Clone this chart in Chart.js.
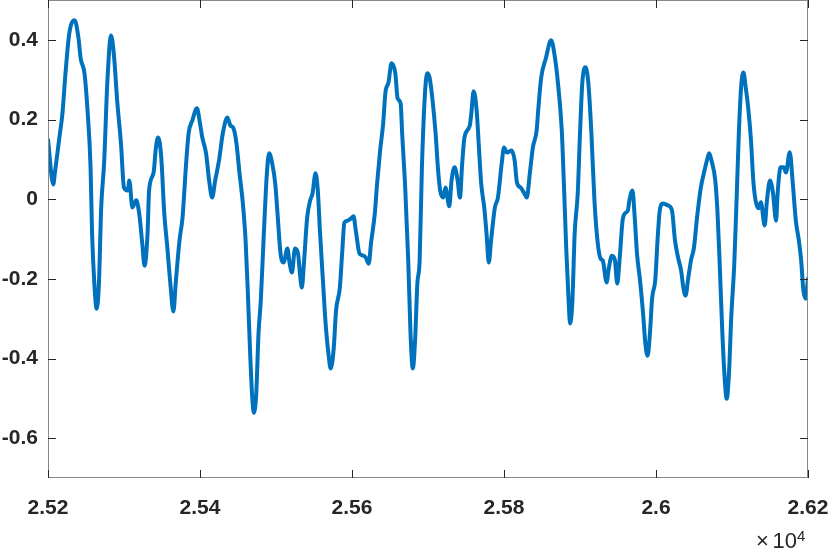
<!DOCTYPE html>
<html>
<head>
<meta charset="utf-8">
<script src="https://cdn.jsdelivr.net/npm/chart.js@4.4.1/dist/chart.umd.min.js"></script>
<style>
  html, body { margin: 0; padding: 0; background: #fff; }
  #wrap { width: 830px; height: 554px; }
</style>
</head>
<body>
<div id="wrap"><canvas id="mycanvas" width="830" height="554"></canvas></div>
<script>
// sample positions (x) and signal values (y)
var xs = [25200,25207,25209,25215,25219,25223,25228,25235,25240,25243,25248,25252,25256,25258,25261,25264,25267,25270,25274,25278,
  25283,25287,25291,25296,25300,25305,25307,25311,25316,25320,25324,25327,25331,25333,25339,25342,25345,25349,25353,25357,
  25361,25365,25368,25373,25377,25382,25385,25390,25396,25400,25403,25408,25412,25416,25420,25425,25430,25436,25440,25444,
  25448,25452,25456,25460,25463,25466,25469,25471,25474,25477,25480,25484,25488,25491,25495,25499,25502,25506,25510,25515,
  25518,25521,25525,25529,25532,25534,25537,25541,25545,25548,25552,25555,25558,25562,25565,25569,25572,25576,25579,25584,
  25587,25590,25594,25599,25602,25605,25610,25614,25618,25622,25625,25630,25633,25637,25641,25644,25648,25652,25657,25660,
  25664,25666,25670,25674,25677,25680,25683,25686,25689,25692,25696,25699,25702,25706,25710,25713,25716,25720,25723,25728,
  25731,25735,25739,25742,25745,25748,25755,25757,25760,25764,25767,25770,25774,25777,25780,25783,25788,25792,25797,25800,
  25804,25810,25814,25817,25822,25826,25830,25834,25838,25843,25845,25849,25855,25862,25867,25871,25876,25879,25882,25885,
  25887,25890,25893,25897,25900,25903,25907,25911,25915,25919,25923,25927,25930,25935,25938,25942,25946,25949,25952,25956,
  25959,25963,25965,25969,25972,25975,25979,25983,25986,25989,25992,25995,25999,26002,26005,26009,26016,26021,26025,26029,
  26033,26036,26039,26042,26046,26050,26054,26059,26063,26067,26070,26073,26078,26081,26084,26087,26090,26093,26096,26099,
  26103,26106,26109,26112,26115,26118,26121,26125,26128,26131,26135,26138,26143,26146,26150,26154,26158,26160,26164,26168,
  26171,26176,26180,26184,26188,26191,26194,26197,26200];
var ys = [0.149,0.037,0.065,0.155,0.215,0.316,0.416,0.449,0.406,0.353,0.316,0.223,0.080,-0.086,-0.212,-0.275,-0.212,-0.021,0.097,0.291,
  0.411,0.356,0.248,0.140,0.029,0.022,0.047,-0.021,-0.003,-0.036,-0.111,-0.167,-0.086,0.022,0.067,0.130,0.155,0.105,-0.036,-0.121,
  -0.212,-0.282,-0.212,-0.104,-0.046,0.097,0.165,0.198,0.228,0.190,0.155,0.115,0.047,0.004,0.047,0.097,0.165,0.205,0.185,0.178,
  0.140,0.065,-0.003,-0.104,-0.237,-0.388,-0.506,-0.536,-0.488,-0.337,-0.254,-0.086,0.065,0.115,0.090,0.039,-0.036,-0.137,-0.159,-0.124,
  -0.162,-0.184,-0.124,-0.137,-0.197,-0.222,-0.154,-0.046,-0.003,0.014,0.065,0.022,-0.086,-0.212,-0.305,-0.388,-0.425,-0.373,-0.280,-0.222,
  -0.137,-0.059,-0.054,-0.048,-0.043,-0.079,-0.137,-0.141,-0.146,-0.162,-0.111,-0.036,0.039,0.122,0.190,0.268,0.293,0.341,0.316,0.253,
  0.240,0.165,0.029,-0.154,-0.337,-0.425,-0.355,-0.212,-0.154,0.080,0.265,0.316,0.306,0.248,0.165,0.080,0.022,0.004,0.029,-0.018,
  0.047,0.080,0.047,0.004,0.090,0.155,0.185,0.215,0.271,0.223,0.130,0.039,-0.021,-0.086,-0.159,-0.104,-0.021,0.004,0.090,0.130,
  0.117,0.122,0.097,0.042,0.029,0.017,0.004,0.065,0.130,0.173,0.223,0.306,0.353,0.399,0.356,0.291,0.173,0.029,-0.129,-0.255,
  -0.312,-0.255,-0.086,0.014,0.165,0.291,0.331,0.291,0.165,-0.003,-0.104,-0.149,-0.154,-0.209,-0.172,-0.142,-0.154,-0.212,-0.154,-0.054,
  -0.036,-0.028,-0.003,0.022,-0.046,-0.137,-0.204,-0.287,-0.363,-0.393,-0.337,-0.247,-0.204,-0.104,-0.028,-0.011,-0.016,-0.028,-0.104,-0.146,
  -0.179,-0.222,-0.242,-0.204,-0.154,-0.121,-0.046,0.029,0.065,0.097,0.115,0.097,0.047,-0.036,-0.172,-0.322,-0.438,-0.501,-0.438,-0.297,
  -0.162,-0.003,0.165,0.281,0.318,0.281,0.235,0.147,0.047,-0.003,-0.023,-0.008,-0.066,-0.003,0.047,0.014,-0.054,0.014,0.080,0.080,
  0.067,0.118,0.039,-0.054,-0.104,-0.154,-0.230,-0.250,-0.199];

var xTicks = [25200, 25400, 25600, 25800, 26000, 26200];
var xTickLabels = ["2.52", "2.54", "2.56", "2.58", "2.6", "2.62"];
var yTicks = [-0.6, -0.4, -0.2, 0, 0.2, 0.4];
var yTickLabels = ["-0.6", "-0.4", "-0.2", "0", "0.2", "0.4"];

var points = [];
for (var i in xs) {
	points.push({x: xs[i], y: ys[i]});
}

var tickFont = {family: "'Liberation Sans', Arial, Helvetica, sans-serif", size: 21, weight: 'bold'};
var axisColor = '#262626';

// box round the axes with inward ticks on all four sides, plus the x10^4 exponent
var boxPlugin = {
	id: 'matlabBox',
	afterDraw: function(chart) {
		var ctx = chart.ctx;
		var a = chart.chartArea;
		var sx = chart.scales.x, sy = chart.scales.y;
		ctx.save();
		ctx.strokeStyle = '#888';
		ctx.lineWidth = 1;
		ctx.strokeRect(Math.round(a.left) + 0.5, Math.round(a.top) + 0.5,
			Math.round(a.right - a.left) - 1, Math.round(a.bottom - a.top) - 1);
		ctx.strokeStyle = axisColor;
		ctx.beginPath();
		for (var i in xTicks) {
			var px = Math.round(sx.getPixelForValue(xTicks[i])) + 0.5;
			ctx.moveTo(px, a.bottom); ctx.lineTo(px, a.bottom - 8);
			ctx.moveTo(px, a.top); ctx.lineTo(px, a.top + 8);
		}
		for (var j in yTicks) {
			var py = Math.round(sy.getPixelForValue(yTicks[j])) + 0.5;
			ctx.moveTo(a.left, py); ctx.lineTo(a.left + 8, py);
			ctx.moveTo(a.right, py); ctx.lineTo(a.right - 8, py);
		}
		ctx.stroke();

		ctx.fillStyle = axisColor;
		ctx.textBaseline = 'alphabetic';
		ctx.textAlign = 'left';
		ctx.font = "22px 'Liberation Sans', Arial, sans-serif";
		ctx.fillText('\u00d7', 756, 548);
		ctx.textAlign = 'right';
		ctx.fillText('10', 797, 548);
		ctx.textAlign = 'left';
		ctx.font = "15px 'Liberation Sans', Arial, sans-serif";
		ctx.fillText('4', 797, 541);
		ctx.restore();
	}
};

var ctx = document.getElementById('mycanvas');

var LineGraph = new Chart(ctx, {
	type: 'scatter',
	data: {
		datasets: [{
			label: 'signal',
			data: points,
			showLine: true,
			borderColor: '#0072BD',
			backgroundColor: '#0072BD',
			borderWidth: 4,
			pointRadius: 0,
			cubicInterpolationMode: 'monotone',
			borderJoinStyle: 'round',
			borderCapStyle: 'round'
		}]
	},
	options: {
		responsive: false,
		animation: false,
		layout: {padding: {top: 0, right: 22, left: 0, bottom: 0}},
		plugins: {legend: {display: false}, tooltip: {enabled: false}},
		scales: {
			x: {
				type: 'linear',
				min: 25200,
				max: 26200,
				grid: {display: false},
				border: {display: false},
				afterBuildTicks: function(scale) {
					scale.ticks = xTicks.map(function(v) { return {value: v}; });
				},
				afterFit: function(scale) {
					scale.height = 76;
					scale.paddingLeft = 0;
					scale.paddingRight = 0;
				},
				ticks: {
					color: axisColor,
					font: tickFont,
					padding: 10,
					maxRotation: 0,
					autoSkip: false,
					callback: function(v) { return xTickLabels[xTicks.indexOf(v)]; }
				}
			},
			y: {
				min: -0.7,
				max: 0.5,
				grid: {display: false},
				border: {display: false},
				afterBuildTicks: function(scale) {
					scale.ticks = yTicks.map(function(v) { return {value: v}; });
				},
				afterFit: function(scale) {
					scale.width = 48;
					scale.paddingTop = 0;
					scale.paddingBottom = 0;
				},
				ticks: {
					color: axisColor,
					font: tickFont,
					padding: 2,
					autoSkip: false,
					callback: function(v) {
						for (var k in yTicks) {
							if (Math.abs(yTicks[k] - v) < 1e-9) return yTickLabels[k];
						}
						return '';
					}
				}
			}
		}
	},
	plugins: [boxPlugin]
});
</script>
</body>
</html>
